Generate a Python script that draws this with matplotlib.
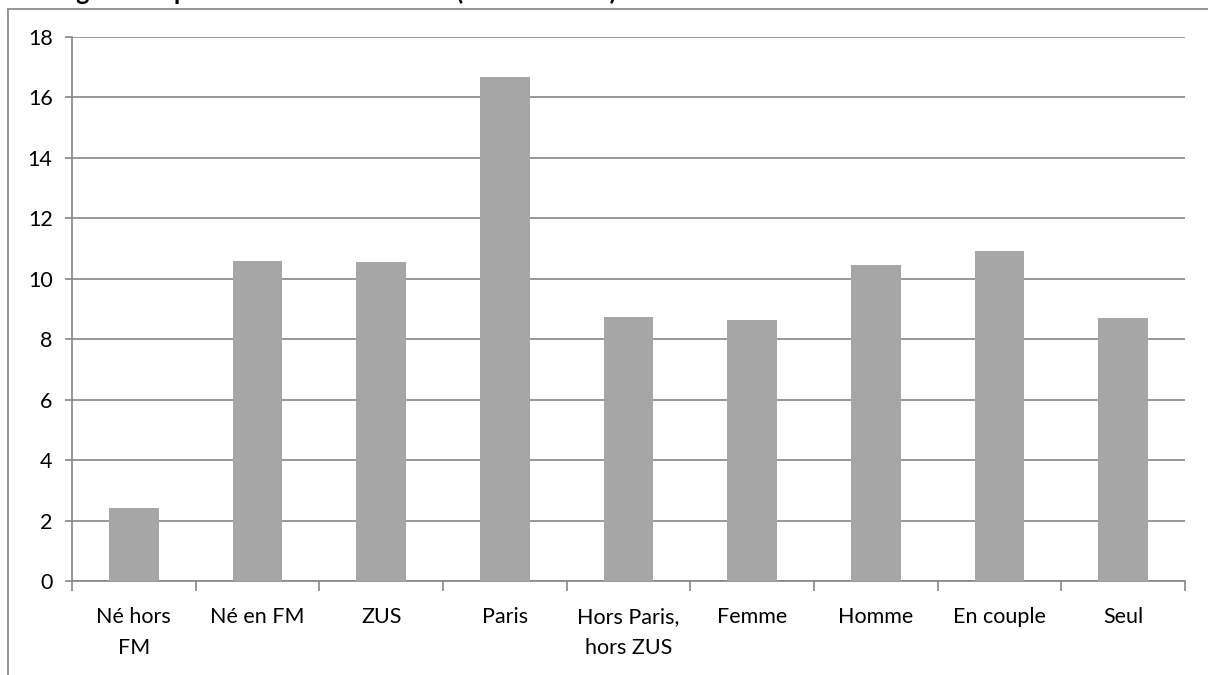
import matplotlib.pyplot as plt
from matplotlib.lines import Line2D
import numpy as np

categories = ["Né hors\nFM", "Né en FM", "ZUS", "Paris", "Hors Paris,\nhors ZUS",
              "Femme", "Homme", "En couple", "Seul"]
values = [2.4, 10.6, 10.55, 16.68, 8.72, 8.64, 10.45, 10.92, 8.7]

plt.rcParams['font.family'] = ['Lato', 'DejaVu Sans']

fig = plt.figure(figsize=(12.08, 6.75), dpi=100)
ax = fig.add_axes([72 / 1208, 1 - 581 / 675, (1185 - 72) / 1208, (581 - 37) / 675])

x = np.arange(len(categories))
ax.bar(x, values, width=0.4, color='#a6a6a6', zorder=3)

ax.set_xlim(-0.5, len(categories) - 0.5)
ax.set_ylim(0, 18)
ax.set_yticks(range(0, 19, 2))
ax.yaxis.grid(True, color='#868686', linewidth=1.2, zorder=0)

ax.set_xticks(x)
ax.set_xticklabels(categories, fontsize=15.5, linespacing=1.65)
ax.set_xticks(np.arange(-0.5, len(categories)), minor=True)
ax.tick_params(axis='x', which='major', length=0, pad=19)
ax.tick_params(axis='x', which='minor', length=7, color='#868686', width=1.2)
ax.tick_params(axis='y', length=5, color='#868686', width=1.2, labelsize=15.5, pad=9)

for s in ['top', 'right']:
    ax.spines[s].set_visible(False)
for s in ['left', 'bottom']:
    ax.spines[s].set_color('#868686')
    ax.spines[s].set_linewidth(1.2)

# chart frame, partly outside the picture
fig.add_artist(Line2D([8 / 1208, 8 / 1208], [0, 1 - 9 / 675], color='#8c8c8c', lw=1.3))
fig.add_artist(Line2D([8 / 1208, 1], [1 - 9 / 675, 1 - 9 / 675], color='#8c8c8c', lw=1.3))

# title cut off at the top edge
fig.text(0.033, 1 + 0.5 / 675, "Origine des patients selon leur statut (en % du total)",
         fontsize=18, fontweight='bold', va='baseline', ha='left')

fig.savefig("out.png", dpi=100)
